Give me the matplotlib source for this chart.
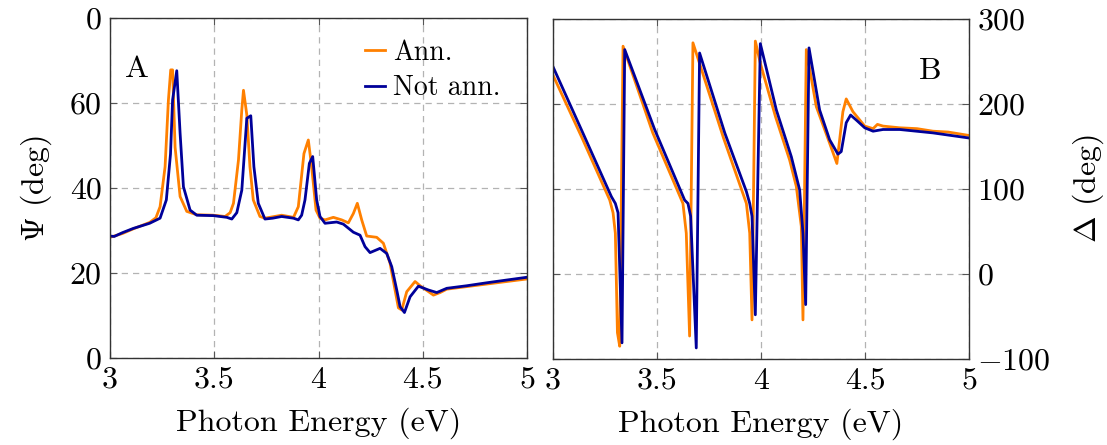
import matplotlib
matplotlib.use('Agg')
import matplotlib.pyplot as plt

plt.rcParams['font.family'] = 'serif'
plt.rcParams['font.serif'] = ['cmr10']
plt.rcParams['mathtext.fontset'] = 'cm'
plt.rcParams['axes.formatter.use_mathtext'] = True

# Psi (deg), annealed / not annealed
e_psi_ann = [3.0, 3.06, 3.112, 3.19, 3.22, 3.24, 3.264, 3.28, 3.291, 3.30, 3.312, 3.336, 3.368,
             3.416, 3.496, 3.552, 3.576, 3.592, 3.616, 3.632, 3.64, 3.656, 3.671, 3.687, 3.719,
             3.743, 3.823, 3.88, 3.903, 3.93, 3.951, 3.967, 3.988, 4.007, 4.031, 4.071, 4.111,
             4.143, 4.167, 4.186, 4.207, 4.231, 4.279, 4.311, 4.343, 4.367, 4.383, 4.399, 4.423,
             4.463, 4.487, 4.551, 4.583, 4.615, 4.711, 4.807, 4.903, 5.0]
psi_ann = [28.4, 29.3, 30.4, 31.9, 33.0, 35.6, 45.0, 60.7, 67.8, 67.8, 49.6, 38.0, 34.5,
           33.7, 33.6, 33.3, 34.2, 36.4, 46.6, 58.4, 63.0, 57.2, 45.0, 37.2, 33.3,
           32.9, 33.6, 33.1, 35.6, 48.1, 51.3, 45.0, 34.8, 32.9, 32.5, 33.1, 32.5,
           31.8, 34.0, 36.4, 32.5, 28.7, 28.4, 27.0, 22.3, 16.0, 11.8, 11.3, 15.6,
           18.0, 17.0, 14.8, 15.4, 16.2, 16.8, 17.4, 18.0, 18.6]

e_psi_not = [3.0, 3.02, 3.06, 3.112, 3.19, 3.24, 3.27, 3.29, 3.30, 3.32, 3.336, 3.352, 3.384,
             3.416, 3.496, 3.56, 3.584, 3.608, 3.632, 3.656, 3.675, 3.69, 3.711, 3.743, 3.78,
             3.823, 3.88, 3.903, 3.919, 3.935, 3.956, 3.972, 3.991, 4.007, 4.031, 4.087, 4.119,
             4.167, 4.199, 4.223, 4.247, 4.295, 4.327, 4.351, 4.375, 4.391, 4.412, 4.439, 4.479,
             4.527, 4.567, 4.615, 4.711, 4.807, 4.903, 5.0]
psi_not = [28.7, 28.6, 29.5, 30.5, 31.7, 32.9, 37.2, 48.0, 60.7, 67.6, 52.9, 40.3, 34.8,
           33.6, 33.5, 33.1, 32.7, 34.2, 39.5, 56.4, 57.0, 45.0, 36.4, 32.7, 32.9,
           33.3, 32.9, 32.5, 33.6, 37.2, 45.8, 47.4, 37.2, 33.3, 31.7, 32.0, 31.5,
           29.6, 28.9, 26.2, 24.8, 25.8, 24.6, 21.5, 16.0, 12.1, 10.7, 14.4, 16.9,
           16.0, 15.4, 16.4, 17.0, 17.7, 18.35, 19.0]

# Delta (deg), annealed / not annealed
e_delta_ann = [3.0, 3.14, 3.273, 3.289, 3.30, 3.31, 3.321, 3.337, 3.48, 3.625, 3.641, 3.657,
               3.673, 3.82, 3.93, 3.946, 3.957, 3.973, 3.997, 4.07, 4.138, 4.17, 4.194, 4.202,
               4.218, 4.266, 4.33, 4.365, 4.394, 4.41, 4.442, 4.499, 4.539, 4.56, 4.587, 4.667,
               4.75, 4.827, 4.9, 5.0]
delta_ann = [234, 160, 87, 72, 48, -69, -85, 268, 166, 83, 48, -73,
             272, 160, 83, 48, -54, 274, 248, 185, 134, 103, 56, -54,
             264, 197, 154, 130, 191, 206, 191, 174, 171, 176, 174, 172,
             171, 168, 167, 163]

e_delta_not = [3.0, 3.14, 3.281, 3.30, 3.313, 3.332, 3.345, 3.489, 3.633, 3.649, 3.662, 3.689,
               3.705, 3.826, 3.93, 3.946, 3.957, 3.973, 3.997, 4.074, 4.146, 4.186, 4.202, 4.215,
               4.231, 4.282, 4.33, 4.37, 4.386, 4.41, 4.431, 4.459, 4.499, 4.539, 4.587, 4.667,
               4.827, 5.0]
delta_not = [244, 168, 91, 83, 72, -81, 264, 170, 87, 83, 68, -87,
             260, 166, 97, 83, 68, -48, 271, 193, 138, 99, 48, -36,
             266, 193, 158, 141, 144, 178, 187, 181, 172, 168, 170, 170,
             166, 160]

x_ticks = [3, 3.5, 4, 4.5, 5]
x_labels = ['3', '3.5', '4', '4.5', '5']
psi_ticks = [0, 20, 40, 60, 80]
psi_labels = ['0', '20', '40', '60', '0']   # top label reads "0" in the original
delta_ticks = [-100, 0, 100, 200, 300]

c_ann = '#ff8000'
c_not = '#000099'
fs = 23

fig = plt.figure(figsize=(11.07, 4.45), dpi=100)
ax1 = fig.add_axes([0.0994, 0.1955, 0.3767, 0.764])
ax2 = fig.add_axes([0.4995, 0.1933, 0.3758, 0.764])

ax1.plot(e_psi_ann, psi_ann, color=c_ann, lw=2.0, label='Ann.')
ax1.plot(e_psi_not, psi_not, color=c_not, lw=2.0, label='Not ann.')
ax2.plot(e_delta_ann, delta_ann, color=c_ann, lw=2.0)
ax2.plot(e_delta_not, delta_not, color=c_not, lw=2.0)

for ax in (ax1, ax2):
    ax.set_xlim(3, 5)
    ax.set_xticks(x_ticks)
    ax.set_xticklabels(x_labels)
    ax.grid(True, color='#b3b3b3', linestyle=(0, (5, 4)), linewidth=0.9)
    ax.tick_params(direction='in', length=5, width=0.8, color='#555555',
                   labelsize=fs, top=True, right=True, left=True, bottom=True, pad=6)
    ax.set_xlabel('Photon Energy (eV)', fontsize=fs, labelpad=10)
    for s in ax.spines.values():
        s.set_linewidth(1.0)
        s.set_color('#333333')

ax1.set_ylim(0, 80)
ax1.set_yticks(psi_ticks)
ax1.set_yticklabels(psi_labels)
ax1.set_ylabel(r'$\Psi$ (deg)', fontsize=fs, labelpad=11)
ax1.text(0.065, 0.85, 'A', transform=ax1.transAxes, fontsize=fs, ha='center', va='center')
ax1.legend(loc='upper left', bbox_to_anchor=(0.572, 0.985), frameon=False, fontsize=20,
           handlelength=0.7, handletextpad=0.3, labelspacing=0.32, borderaxespad=0.2)

ax2.set_ylim(-100, 300)
ax2.set_yticks(delta_ticks)
ax2.yaxis.tick_right()
ax2.tick_params(axis='y', left=True, right=True, labelleft=False, labelright=True)
ax2.yaxis.set_label_position('right')
ax2.set_ylabel(r'$\Delta$ (deg)', fontsize=fs, labelpad=14, rotation=90)
ax2.text(0.906, 0.847, 'B', transform=ax2.transAxes, fontsize=fs, ha='center', va='center')

fig.savefig('out.png', dpi=100)
